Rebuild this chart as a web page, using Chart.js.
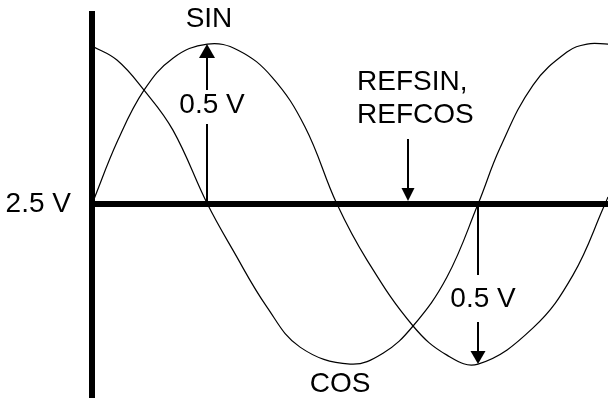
<!DOCTYPE html>
<html>
<head>
<meta charset="utf-8">
<script src="https://cdn.jsdelivr.net/npm/chart.js"></script>
<style>
  html, body { margin: 0; padding: 0; background: #fff; }
</style>
</head>
<body>
<canvas id="chart1" width="608" height="398"></canvas>
<script>
// Values: phase in degrees, level in volts
const sinPhase = [0, 18.2, 36.5, 56.8, 81.0, 102.5, 126.3, 149.5, 171.9, 193.0, 225.3, 249.1, 270.9, 309.5, 337.5, 360.0, 362.1];
const sinVolts = [2.5, 2.7, 2.856, 2.956, 3.0, 2.981, 2.897, 2.741, 2.5, 2.325, 2.119, 2.028, 2.0, 2.113, 2.278, 2.5, 2.522];
const cosPhase = [0, 17.5, 36.5, 56.8, 81.0, 98.9, 122.8, 146.0, 181.1, 204.2, 225.3, 249.1, 270.9, 286.3, 309.5, 333.3, 347.4, 362.1];
const cosVolts = [2.994, 2.95, 2.856, 2.731, 2.5, 2.356, 2.178, 2.053, 2.0, 2.034, 2.119, 2.272, 2.5, 2.675, 2.872, 2.975, 3.0, 3.0];

const refLevel = 2.5;
const yTicks = [2.5];
const yTickLabels = ['2.5 V'];
const refArrowPhase = 221.8;
const refArrowTop = 2.703;

const FONT = '"Liberation Sans", Arial, Helvetica, sans-serif';
Chart.defaults.font.family = FONT;

// draws a vertical arrow from y0 to y1 (tip), optionally broken for a label
function arrow(ctx, x, y0, y1, gap, headLen, headHalf) {
  const dir = Math.sign(y1 - y0);
  const base = y1 - dir * headLen;
  ctx.beginPath();
  if (gap) {
    ctx.moveTo(x, y0);
    ctx.lineTo(x, gap[0]);
    ctx.moveTo(x, gap[1]);
    ctx.lineTo(x, base);
  } else {
    ctx.moveTo(x, y0);
    ctx.lineTo(x, base);
  }
  ctx.stroke();
  ctx.beginPath();
  ctx.moveTo(x, y1);
  ctx.lineTo(x - headHalf, base);
  ctx.lineTo(x + headHalf, base);
  ctx.closePath();
  ctx.fill();
}

const annotate = {
  id: 'annotate',
  afterDraw(chart) {
    const { ctx, scales: { x, y } } = chart;
    const mid = y.getPixelForValue(refLevel);
    ctx.save();
    ctx.fillStyle = '#000';
    ctx.strokeStyle = '#000';
    ctx.lineWidth = 2;
    ctx.font = '28px ' + FONT;
    ctx.textBaseline = 'alphabetic';
    ctx.textAlign = 'center';

    // amplitude above reference, at the SIN peak
    const xPeak = Math.round(x.getPixelForValue(sinPhase[4]));
    arrow(ctx, xPeak, mid, y.getPixelForValue(sinVolts[4]), [mid - 80, mid - 114], 14, 8);
    ctx.fillText('0.5 V', xPeak + 5, mid - 91);
    ctx.fillText('SIN', xPeak + 2, 27);

    // amplitude below reference, at the SIN trough
    const xTrough = Math.round(x.getPixelForValue(sinPhase[12]));
    arrow(ctx, xTrough, mid, y.getPixelForValue(sinVolts[12]), [mid + 71, mid + 118], 13, 7.5);
    ctx.fillText('0.5 V', xTrough + 5, mid + 103);

    // COS label under its trough
    ctx.fillText('COS', x.getPixelForValue(cosPhase[8]) - 10, 392);

    // REFSIN, REFCOS pointer
    const xRef = Math.round(x.getPixelForValue(refArrowPhase));
    arrow(ctx, xRef, y.getPixelForValue(refArrowTop), mid - 3, null, 13, 6.5);
    ctx.textAlign = 'left';
    ctx.fillText('REFSIN,', xRef - 51, 90);
    ctx.fillText('REFCOS', xRef - 51, 123);
    ctx.restore();
  }
};

const ctx = document.getElementById('chart1').getContext('2d');
const chart = new Chart(ctx, {
  type: 'line',
  data: {
    datasets: [
      {
        label: 'SIN',
        data: sinPhase.map((p, i) => ({ x: p, y: sinVolts[i] })),
        borderColor: '#000',
        borderWidth: 1.2,
        pointRadius: 0,
        tension: 0.4,
        fill: false,
      },
      {
        label: 'COS',
        data: cosPhase.map((p, i) => ({ x: p, y: cosVolts[i] })),
        borderColor: '#000',
        borderWidth: 1.2,
        pointRadius: 0,
        tension: 0.4,
        fill: false,
      },
    ],
  },
  options: {
    responsive: false,
    animation: false,
    layout: { padding: { top: 14, left: 0, right: 0, bottom: 0 } },
    plugins: {
      legend: { display: false },
      tooltip: { enabled: false },
    },
    scales: {
      x: {
        type: 'linear',
        position: { y: refLevel },
        min: 0,
        max: 362.1,
        ticks: { display: false },
        grid: { display: false, drawTicks: false },
        border: { display: true, width: 6, color: '#000' },
      },
      y: {
        type: 'linear',
        position: 'left',
        min: 1.894,
        max: 3.094,
        afterBuildTicks: scale => {
          scale.ticks = yTicks.map(v => ({ value: v }));
        },
        afterFit: scale => {
          scale.width = 92;
          scale.paddingTop = 0;
          scale.paddingBottom = 0;
        },
        ticks: {
          color: '#000',
          padding: 21,
          font: { size: 28 },
          callback: (v, i) => yTickLabels[i],
        },
        grid: { display: false, drawTicks: false },
        border: { display: true, width: 6, color: '#000' },
      },
    },
  },
  plugins: [annotate],
});
</script>
</body>
</html>
